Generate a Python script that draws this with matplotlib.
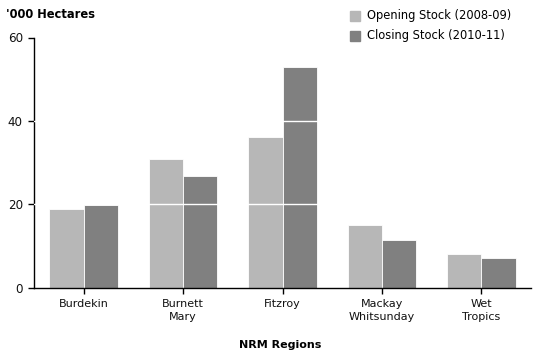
import numpy as np
import matplotlib
matplotlib.use('Agg')
from matplotlib import pyplot as plt

regions = ['Burdekin', 'Burnett\nMary', 'Fitzroy', 'Mackay\nWhitsunday', 'Wet\nTropics']
opening = [18.9, 30.9, 36.2, 15.0, 8.1]
closing = [19.8, 26.8, 52.9, 11.4, 7.1]
series_names = ['Opening Stock (2008-09)', 'Closing Stock (2010-11)']
y_ticks = [0, 20, 40, 60]

LIGHT = '#b7b7b7'
DARK = '#808080'

plt.rcParams['font.family'] = ['DejaVu Sans']
plt.rcParams['font.size'] = 8

fig = plt.figure(figsize=(5.43, 3.57), dpi=100)
ax = fig.add_axes([34 / 543, 69.3 / 357, 497 / 543, 250.2 / 357])

x = np.arange(len(regions))
w = 0.345
ax.bar(x - w / 2, opening, w, color=LIGHT, edgecolor='white', linewidth=0.6, zorder=2)
ax.bar(x + w / 2, closing, w, color=DARK, edgecolor='white', linewidth=0.6, zorder=2)

for yv in y_ticks[1:-1]:
    ax.axhline(yv, color='white', lw=1, zorder=3)

ax.set_xlim(-0.5, len(regions) - 0.5)
ax.set_ylim(0, 60)
ax.set_yticks(y_ticks)
ax.set_xticks(x)
ax.set_xticklabels(regions, linespacing=1.45)
ax.tick_params(axis='both', length=4, width=1, color='black', labelcolor='#111111')
ax.tick_params(axis='x', pad=4)
ax.tick_params(axis='y', pad=4, labelsize=8.6)

for s in ['top', 'right']:
    ax.spines[s].set_visible(False)
for s in ['left', 'bottom']:
    ax.spines[s].set_linewidth(1)

fig.text(6 / 543, 1 - 15 / 357, "'000 Hectares", fontweight='bold', fontsize=8.3,
         va='center', ha='left')
fig.text(280 / 543, 1 - 345 / 357, 'NRM Regions', fontweight='bold', va='center', ha='center')

for i, (name, col) in enumerate(zip(series_names, [LIGHT, DARK])):
    yy = 1 - (16 + 20 * i) / 357
    fig.patches.append(plt.Rectangle((350 / 543, yy - 5 / 357), 10 / 543, 10 / 357,
                                     color=col, transform=fig.transFigure, figure=fig))
    fig.text(367 / 543, yy, name, va='center', ha='left', fontsize=8.3)

fig.savefig('out.png', dpi=100)
